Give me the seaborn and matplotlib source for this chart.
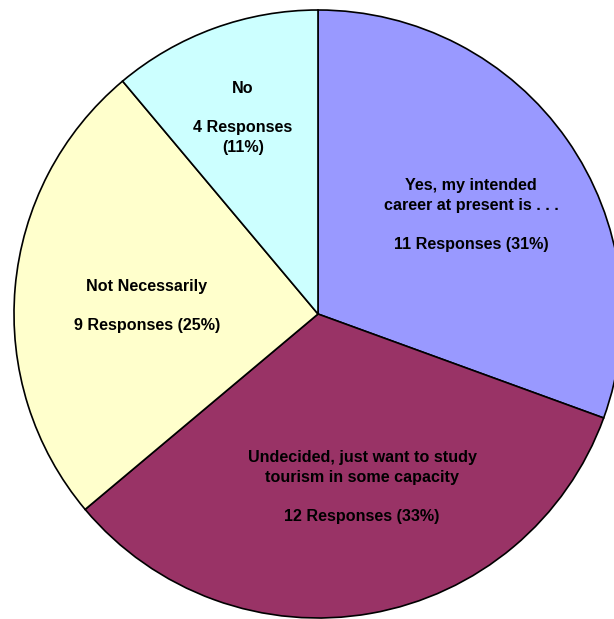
import matplotlib
matplotlib.use("Agg")
import matplotlib.pyplot as plt
import seaborn as sns

# Survey answers, clockwise from 12 o'clock
answers = ["Yes, my intended\ncareer at present is . . .",
           "Undecided, just want to study\ntourism in some capacity",
           "Not Necessarily",
           "No"]
responses = [11, 12, 9, 4]
percents = [31, 33, 25, 11]
colors = ["#9999FF", "#993366", "#FFFFCC", "#CCFFFF"]

sns.set_theme(style="white")
plt.rcParams['font.family'] = ['Liberation Sans', 'DejaVu Sans']

W, H = 614, 619
fig = plt.figure(figsize=(W / 100, H / 100), dpi=100)
ax = fig.add_axes([0, 0, 1, 1])

# pie centre/radius in pixel space (y flipped)
cx, cy, r = 318, H - 314, 304
ax.pie(responses, colors=colors, startangle=90, counterclock=False,
       center=(cx, cy), radius=r, frame=True,
       wedgeprops=dict(edgecolor='black', linewidth=1.2))
ax.set_xlim(0, W)
ax.set_ylim(0, H)
ax.set_aspect('equal')
ax.axis('off')

# label anchor points (pixel coords of text centres)
label_pos = [(471, 215), (362, 487), (147, 306), (243, 118)]
for name, n, p, (x, y) in zip(answers, responses, percents, label_pos):
    if name == "No":
        txt = f"{name}\n\n{n} Responses\n({p}%)"
    else:
        txt = f"{name}\n\n{n} Responses ({p}%)"
    ax.text(x, H - y, txt, ha='center', va='center', fontsize=11.6,
            fontweight='bold', color='black', linespacing=1.4)

fig.savefig("out.png", dpi=100)
